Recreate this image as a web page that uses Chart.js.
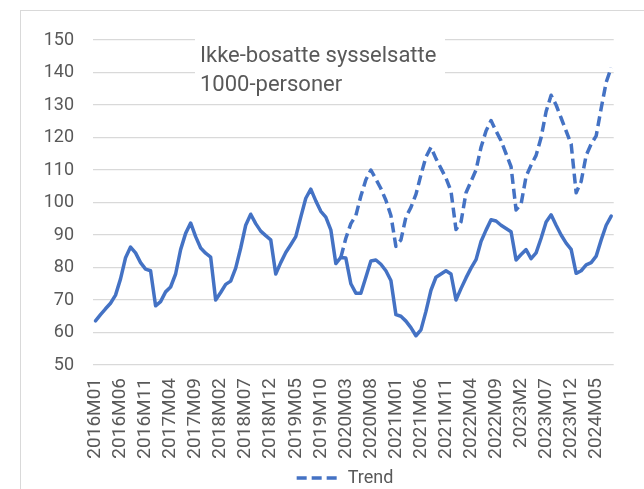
<!DOCTYPE html>
<html lang="no">
<head>
<meta charset="UTF-8">
<title>Ikke-bosatte sysselsatte</title>
<style>
    html, body {
        margin: 0;
        padding: 0;
        background: #fff;
        overflow: hidden;
    }
    .frame {
        position: absolute;
        left: 20px;
        top: 10px;
        width: 700px;
        height: 600px;
        border: 1px solid #d9d9d9;
    }
    .chart-box {
        position: absolute;
        left: 0;
        top: 0;
        width: 647px;
        height: 497px;
    }
</style>
</head>
<body>
<div class="frame"></div>
<div class="chart-box"><canvas id="chart" width="647" height="497"></canvas></div>

<script src="https://cdn.jsdelivr.net/npm/chart.js@4.4.0/dist/chart.umd.js"></script>
<script>
    // Month categories (2016M01 - 2024M08)
    const months = [
        '2016M01','2016M02','2016M03','2016M04','2016M05','2016M06','2016M07','2016M08','2016M09','2016M10','2016M11','2016M12',
        '2017M01','2017M02','2017M03','2017M04','2017M05','2017M06','2017M07','2017M08','2017M09','2017M10','2017M11','2017M12',
        '2018M01','2018M02','2018M03','2018M04','2018M05','2018M06','2018M07','2018M08','2018M09','2018M10','2018M11','2018M12',
        '2019M01','2019M02','2019M03','2019M04','2019M05','2019M06','2019M07','2019M08','2019M09','2019M10','2019M11','2019M12',
        '2020M01','2020M02','2020M03','2020M04','2020M05','2020M06','2020M07','2020M08','2020M09','2020M10','2020M11','2020M12',
        '2021M01','2021M02','2021M03','2021M04','2021M05','2021M06','2021M07','2021M08','2021M09','2021M10','2021M11','2021M12',
        '2022M01','2022M02','2022M03','2022M04','2022M05','2022M06','2022M07','2022M08','2022M09','2022M10','2022M11','2022M12',
        '2023M01','2023M2','2023M03','2023M04','2023M05','2023M06','2023M07','2023M08','2023M09','2023M10','2023M11','2023M12',
        '2024M01','2024M02','2024M03','2024M04','2024M05','2024M06','2024M07','2024M08'
    ];

    // Non-resident employed, 1000 persons
    const sysselsatte = [
        63.6, 65.5, 67.3, 69, 71.5, 76.5, 83, 86.3, 84.5, 81.5, 79.5, 79,
        68.2, 69.5, 72.5, 74, 78, 85.5, 90.5, 93.7, 89.5, 86, 84.4, 83.2,
        70, 72.3, 74.8, 75.8, 79.8, 86, 93, 96.4, 93.5, 91.2, 89.8, 88.5,
        78, 81.5, 84.6, 87, 89.5, 95.5, 101.3, 104.1, 100.5, 97.3, 95.5, 91.6,
        81.2, 83.1, 82.9, 75, 72.1, 72.1, 77, 82, 82.3, 81, 79, 76,
        65.5, 65, 63.5, 61.5, 59, 60.8, 66.5, 73, 77, 78, 79, 78,
        70, 73.5, 76.8, 79.8, 82.4, 88, 91.5, 94.7, 94.3, 93, 92, 91,
        82.3, 84, 85.5, 82.7, 84.5, 89, 94, 96.2, 93, 90, 87.5, 85.6,
        78.2, 79, 80.8, 81.5, 83.5, 88.5, 93, 95.8
    ];

    // Trend series, starts 2020M02
    const trend = [
        null, null, null, null, null, null, null, null, null, null, null, null,
        null, null, null, null, null, null, null, null, null, null, null, null,
        null, null, null, null, null, null, null, null, null, null, null, null,
        null, null, null, null, null, null, null, null, null, null, null, null,
        null, 83.1, 89, 93.5, 96, 102, 107, 110, 107.2, 104.3, 100.7, 96,
        86.5, 88.5, 95.5, 98.5, 102.5, 108.5, 114, 117, 113.5, 110.5, 107.5, 103.5,
        91.7, 94, 103, 106.5, 110, 117, 122, 125.2, 122, 119, 115, 111,
        97.7, 99.5, 108, 111.5, 114.5, 120, 128, 133, 130, 126, 122, 118,
        103, 106.5, 114.5, 118, 120.5, 129, 137, 141.5
    ];

    const yTicks = { min: 50, max: 150, step: 10 };
    const titleLines = ['Ikke-bosatte sysselsatte', '1000-personer'];

    const blue = '#4472C4';
    const grey = '#595959';
    const trendDash = [10, 5];

    Chart.defaults.font.family = 'Roboto';
    Chart.defaults.font.size = 18;
    Chart.defaults.color = grey;

    // Text box inside the plot, covers the gridlines behind it
    const titleBox = {
        id: 'titleBox',
        beforeDatasetsDraw(chart) {
            const ctx = chart.ctx;
            const a = chart.chartArea;
            ctx.save();
            ctx.fillStyle = '#fff';
            ctx.fillRect(a.left + 102, a.top - 8, 250, 66);
            ctx.fillStyle = grey;
            ctx.font = '22px Roboto';
            ctx.textBaseline = 'alphabetic';
            ctx.fillText(titleLines[0], a.left + 107, a.top + 22);
            ctx.fillText(titleLines[1], a.left + 107, a.top + 51);
            ctx.restore();
        }
    };

    new Chart(document.getElementById('chart'), {
        type: 'line',
        data: {
            labels: months,
            datasets: [
                {
                    label: 'Sysselsatte',
                    data: sysselsatte,
                    borderColor: blue,
                    backgroundColor: blue,
                    borderWidth: 3.5,
                    borderJoinStyle: 'round',
                    borderCapStyle: 'round',
                    pointRadius: 0,
                    tension: 0
                },
                {
                    label: 'Trend',
                    data: trend,
                    borderColor: blue,
                    backgroundColor: blue,
                    borderWidth: 3.5,
                    borderDash: trendDash,
                    borderJoinStyle: 'round',
                    pointRadius: 0,
                    pointStyle: 'line',
                    tension: 0
                }
            ]
        },
        options: {
            responsive: false,
            animation: false,
            layout: { padding: { top: 40, left: 43, right: 0, bottom: 0 } },
            scales: {
                x: {
                    offset: true,
                    grid: { display: false, drawTicks: false },
                    border: { display: false },
                    afterFit(scale) { scale.height = 100; },
                    ticks: {
                        autoSkip: false,
                        maxRotation: 90,
                        minRotation: 90,
                        padding: 13,
                        color: grey,
                        font: { size: 19 },
                        callback: (val, idx) => idx % 5 === 0 ? months[idx] : ''
                    }
                },
                y: {
                    min: yTicks.min,
                    max: yTicks.max,
                    grid: { color: '#d9d9d9', lineWidth: 1.3, drawTicks: false },
                    border: { display: false },
                    afterFit(scale) { scale.width = 50; },
                    ticks: { stepSize: yTicks.step, padding: 19, color: grey }
                }
            },
            plugins: {
                legend: {
                    position: 'bottom',
                    labels: {
                        usePointStyle: true,
                        pointStyleWidth: 42,
                        padding: 4,
                        color: grey,
                        filter: item => item.text === 'Trend',
                        generateLabels(chart) {
                            const items = Chart.defaults.plugins.legend.labels.generateLabels(chart);
                            items.forEach(item => {
                                item.lineDash = chart.data.datasets[item.datasetIndex].borderDash || [];
                                item.lineWidth = 3.5;
                                item.strokeStyle = blue;
                            });
                            return items;
                        }
                    }
                },
                tooltip: { enabled: false }
            }
        },
        plugins: [titleBox]
    });
</script>
</body>
</html>
